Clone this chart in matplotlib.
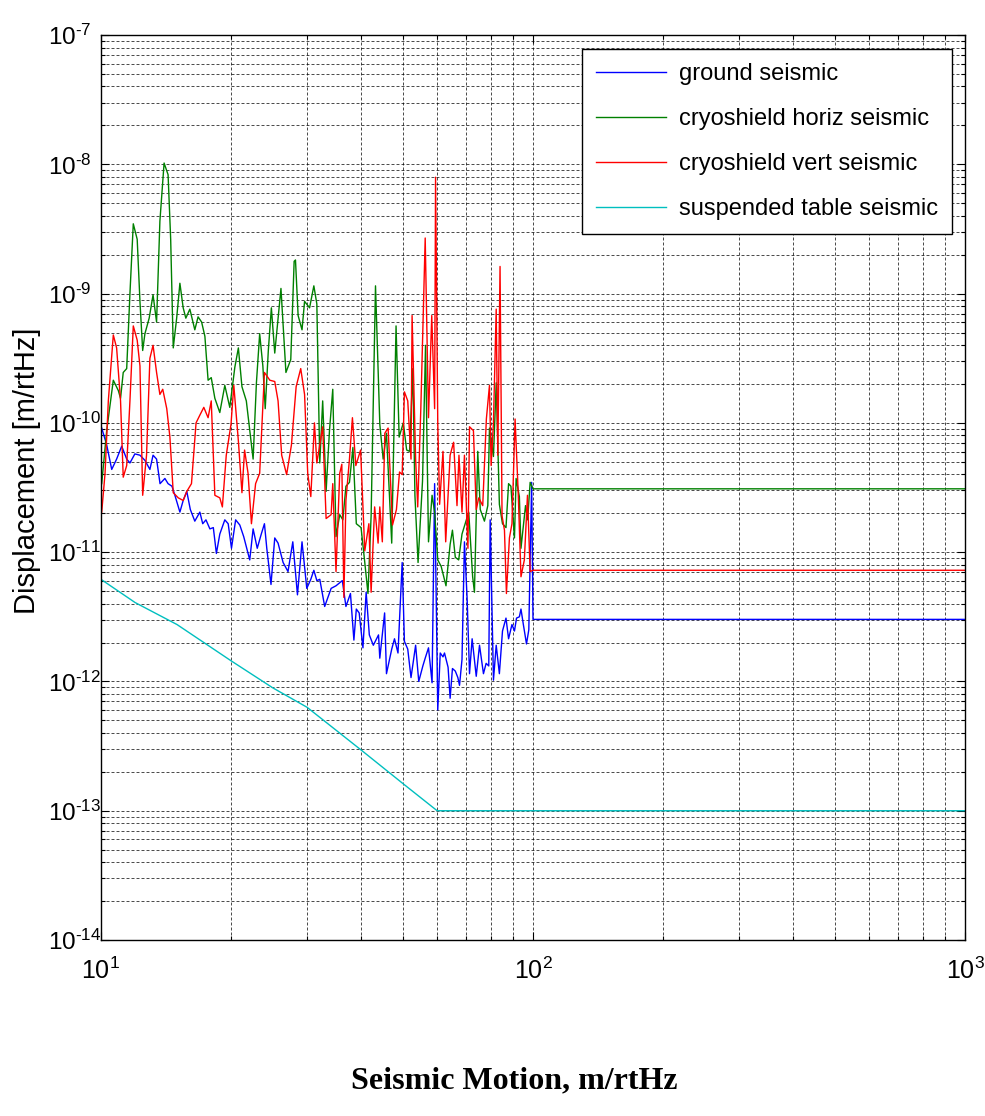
import numpy as np
import matplotlib
matplotlib.use("Agg")
import matplotlib.pyplot as plt
from matplotlib.ticker import LogLocator, FuncFormatter

plt.rcParams['font.family'] = ['Liberation Sans', 'DejaVu Sans']
plt.rcParams['mathtext.fontset'] = 'custom'
plt.rcParams['mathtext.rm'] = 'Liberation Sans'
plt.rcParams['mathtext.it'] = 'Liberation Sans'

# 频率 [Hz] 与 log10(位移) 读图数据
ground_freq = [10.04, 10.31, 10.59, 10.87, 11.17, 11.47, 11.67, 11.98, 12.31, 12.64, 12.98, 13.2, 13.45,
               13.7, 14.06, 14.3, 14.6, 14.83, 15.23, 15.5, 15.8, 16.1, 16.49, 16.94, 17.2, 17.5, 17.87,
               18.2, 18.5, 18.84, 19.35, 19.7, 20.05, 20.5, 20.96, 21.4, 22.1, 22.5, 23.0, 23.5, 23.9,
               24.2, 24.75, 25.25, 25.7, 26.4, 27.1, 27.8, 28.5, 29.2, 29.95, 30.6, 31.1, 31.6, 32.1,
               32.95, 34.1, 35.0, 36.2, 36.9, 37.8, 38.5, 39.0, 39.6, 40.4, 41.1, 41.8, 42.7, 43.9,
               44.2, 45.35, 45.8, 47.1, 47.8, 48.7, 49.8, 50.4, 51.3, 52.2, 53.5, 54.4, 55.6, 56.3,
               57.3, 58.4, 59.2, 60.2, 61.0, 61.9, 62.4, 63.6, 64.3, 65.1, 66.1, 67.0, 67.6, 68.5,
               69.4, 70.4, 71.3, 72.3, 73.9, 75.2, 76.8, 77.9, 79.0, 79.6, 81.0, 82.2, 83.6, 85.0,
               86.6, 87.8, 89.4, 90.6, 91.6, 93.0, 93.8, 95.0, 96.6, 97.8, 99.3, 100.0, 1000.0]
ground_log = [-10.04, -10.17, -10.36, -10.28, -10.18, -10.28, -10.31, -10.24, -10.25, -10.29, -10.36, -10.25,
              -10.28, -10.47, -10.43, -10.47, -10.49, -10.56, -10.69, -10.60, -10.53, -10.67, -10.76, -10.69,
              -10.78, -10.75, -10.82, -10.81, -11.01, -10.86, -10.75, -10.78, -10.97, -10.75, -10.79, -10.88,
              -11.06, -10.82, -10.97, -10.86, -10.78, -10.97, -11.25, -10.89, -10.93, -11.08, -11.15, -10.92,
              -11.33, -10.92, -11.28, -11.21, -11.14, -11.22, -11.21, -11.42, -11.28, -11.26, -11.22, -11.42,
              -11.32, -11.68, -11.44, -11.47, -11.74, -11.31, -11.64, -11.72, -11.64, -11.82, -11.47, -11.94,
              -11.75, -11.67, -11.78, -11.08, -11.69, -11.75, -11.97, -11.72, -12.00, -11.88, -11.82, -11.74,
              -12.01, -10.47, -12.22, -11.78, -11.81, -11.78, -11.89, -12.13, -11.90, -11.92, -11.97, -12.03,
              -11.83, -10.92, -11.36, -11.94, -11.67, -11.96, -11.72, -11.94, -11.86, -11.88, -10.75, -11.99,
              -11.72, -11.94, -11.61, -11.51, -11.67, -11.56, -11.61, -11.51, -11.50, -11.44, -11.56, -11.71,
              -11.60, -10.46, -11.52, -11.52]

horiz_freq = [10.04, 10.31, 10.68, 10.97, 11.1, 11.26, 11.47, 11.67, 11.88, 12.13, 12.31, 12.49, 12.64,
              12.93, 13.2, 13.45, 13.69, 14.0, 14.3, 14.5, 14.7, 14.97, 15.23, 15.5, 15.72, 16.06, 16.49,
              16.78, 17.1, 17.4, 17.7, 18.0, 18.35, 18.84, 19.35, 19.87, 20.41, 20.8, 21.2, 21.7, 22.5,
              22.9, 23.3, 23.7, 24.0, 24.4, 24.8, 25.25, 26.1, 26.8, 27.5, 28.0, 28.2, 28.6, 29.2, 29.6,
              30.4, 31.1, 31.6, 32.1, 32.6, 33.2, 33.8, 34.4, 35.0, 35.7, 36.3, 36.9, 37.6, 38.3, 39.0,
              40.0, 40.8, 41.5, 42.2, 43.2, 44.2, 45.0, 45.8, 47.1, 48.2, 49.0, 50.1, 51.0, 51.8, 52.7,
              53.3, 54.2, 55.5, 56.4, 57.3, 58.4, 59.2, 60.2, 61.3, 62.9, 64.3, 65.1, 66.1, 67.3, 68.5,
              71.0, 72.5, 73.2, 74.5, 75.5, 77.2, 78.6, 79.3, 81.0, 82.2, 83.6, 85.0, 86.6, 87.8, 88.9,
              90.6, 91.4, 93.0, 93.8, 96.1, 97.2, 98.5, 100.0, 1000.0]
horiz_log = [-10.47, -10.06, -9.67, -9.75, -9.81, -9.61, -9.58, -9.00, -8.46, -8.58, -9.06, -9.44, -9.31,
             -9.19, -9.01, -9.22, -8.44, -7.99, -8.08, -8.58, -9.42, -9.19, -8.92, -9.11, -9.19, -9.12, -9.28,
             -9.18, -9.22, -9.33, -9.67, -9.65, -9.81, -9.92, -9.71, -9.88, -9.57, -9.42, -9.72, -9.83, -10.28,
             -9.69, -9.31, -9.56, -9.89, -9.44, -9.11, -9.46, -8.96, -9.61, -9.51, -8.75, -8.74, -9.17, -9.28,
             -9.06, -9.11, -8.94, -9.08, -10.31, -9.83, -10.53, -10.06, -9.74, -10.88, -10.71, -10.75, -10.49,
             -10.46, -10.19, -10.78, -10.81, -11.08, -11.32, -10.72, -8.94, -10.01, -10.28, -10.08, -10.93,
             -9.25, -10.11, -10.00, -10.21, -10.22, -9.58, -10.56, -11.08, -10.45, -9.40, -10.92, -10.56,
             -10.69, -11.06, -11.11, -11.26, -10.94, -10.83, -11.04, -11.06, -10.86, -10.69, -11.19, -11.31,
             -10.22, -10.67, -10.76, -10.64, -10.04, -10.26, -9.69, -10.63, -10.78, -10.81, -10.47, -10.49,
             -10.89, -10.43, -10.57, -10.97, -10.64, -10.75, -10.46, -10.51, -10.51]

vert_freq = [10.04, 10.22, 10.4, 10.68, 10.87, 11.1, 11.26, 11.47, 11.67, 11.88, 12.13, 12.31, 12.49, 12.75,
             12.98, 13.2, 13.45, 13.69, 13.9, 14.2, 14.44, 14.7, 15.1, 15.5, 15.8, 16.2, 16.6, 16.94, 17.3,
             17.7, 18.0, 18.35, 18.84, 19.1, 19.5, 20.0, 20.3, 20.8, 21.2, 21.5, 21.9, 22.3, 22.8, 23.3,
             23.9, 24.6, 25.25, 25.7, 26.2, 26.9, 27.6, 28.3, 29.0, 29.6, 30.1, 30.6, 31.2, 31.6, 32.6,
             33.2, 34.1, 34.4, 35.0, 35.7, 36.1, 36.5, 36.9, 37.6, 38.2, 38.9, 39.9, 40.8, 41.7, 42.2,
             43.0, 43.8, 44.2, 44.8, 45.4, 46.2, 47.3, 48.3, 49.1, 49.8, 50.4, 51.3, 52.2, 52.5, 53.5,
             54.1, 55.0, 56.3, 57.3, 58.3, 59.2, 59.5, 60.2, 60.8, 61.9, 62.8, 64.3, 65.5, 66.7, 67.4,
             68.5, 69.4, 70.7, 71.3, 72.8, 73.9, 74.9, 76.5, 78.0, 79.3, 80.0, 81.0, 82.2, 82.9, 83.9,
             84.8, 85.9, 86.8, 88.2, 89.4, 90.9, 92.4, 93.8, 95.5, 97.1, 98.5, 100.0, 1000.0]
vert_log = [-10.69, -10.39, -9.83, -9.32, -9.42, -9.83, -10.42, -10.33, -9.83, -9.25, -9.36, -9.56, -10.56,
            -10.25, -9.50, -9.40, -9.61, -9.78, -9.74, -9.89, -10.11, -10.54, -10.58, -10.60, -10.53, -10.47,
            -10.00, -9.94, -9.88, -9.96, -9.83, -10.56, -10.58, -10.65, -10.25, -10.01, -9.71, -10.14, -10.54,
            -10.21, -10.39, -10.78, -10.47, -10.39, -9.61, -9.67, -9.68, -9.83, -10.25, -10.40, -10.17, -9.72,
            -9.58, -9.78, -10.39, -10.57, -10.00, -10.31, -10.03, -10.74, -10.71, -10.47, -11.15, -10.39,
            -10.32, -11.35, -10.60, -10.28, -9.96, -10.33, -10.21, -10.99, -10.78, -11.31, -10.65, -10.93,
            -10.65, -10.92, -10.08, -10.04, -10.79, -10.67, -10.38, -10.40, -9.76, -9.83, -10.28, -9.17,
            -10.28, -10.65, -9.89, -8.57, -9.96, -9.17, -9.89, -8.10, -10.00, -10.63, -10.22, -10.92, -10.25,
            -10.15, -10.64, -10.25, -10.69, -10.25, -10.97, -10.03, -10.06, -10.67, -10.58, -10.64, -9.97,
            -9.71, -10.33, -10.00, -9.12, -10.25, -8.79, -10.72, -10.83, -11.32, -10.89, -10.78, -9.97,
            -10.53, -11.19, -11.06, -10.56, -11.15, -11.14, -11.14]

table_freq = [10.0, 12.0, 15.0, 20.0, 25.0, 30.0, 40.0, 50.0, 60.0, 1000.0]
table_log = [-11.21, -11.39, -11.56, -11.84, -12.05, -12.20, -12.53, -12.79, -13.00, -13.00]

series = [
    (ground_freq, ground_log, '#0000ff', 'ground seismic'),
    (horiz_freq, horiz_log, '#008000', 'cryoshield horiz seismic'),
    (vert_freq, vert_log, '#ff0000', 'cryoshield vert seismic'),
    (table_freq, table_log, '#00bfbf', 'suspended table seismic'),
]


def decade_label(v, pos):
    e = int(round(np.log10(v)))
    sign = r'\text{-}' if e < 0 else ''
    return r'$10^{%s%d}$' % (sign, abs(e))


fig = plt.figure(figsize=(9.85, 11.16), dpi=100)
ax = fig.add_axes([0.1025, 0.1577, 0.8772, 0.8109])

for freq, logv, color, label in series:
    ax.loglog(freq, 10.0 ** np.array(logv), color=color, linewidth=1.0, label=label)

ax.set_xlim(10, 1000)
ax.set_ylim(1e-14, 1e-7)
ax.xaxis.set_major_locator(LogLocator(base=10, numticks=10))
ax.yaxis.set_major_locator(LogLocator(base=10, numticks=20))
ax.xaxis.set_minor_locator(LogLocator(base=10, subs=np.arange(2, 10), numticks=100))
ax.yaxis.set_minor_locator(LogLocator(base=10, subs=np.arange(2, 10), numticks=100))
ax.xaxis.set_major_formatter(FuncFormatter(decade_label))
ax.yaxis.set_major_formatter(FuncFormatter(decade_label))

ax.set_axisbelow(True)
ax.grid(True, which='both', color='k', linestyle=(0, (4.3, 2.9)), linewidth=0.5)

ax.tick_params(which='both', direction='in', top=True, right=True, width=0.8)
ax.tick_params(which='major', length=6)
ax.tick_params(which='minor', length=3)
ax.tick_params(axis='x', which='major', labelsize=18, pad=13)
ax.tick_params(axis='y', which='major', labelsize=17.5, pad=38)
plt.setp(ax.get_yticklabels(), ha='left')
for s in ax.spines.values():
    s.set_linewidth(1.0)

ax.set_ylabel('Displacement [m/rtHz]', fontsize=21)
ax.yaxis.set_label_coords(-0.069, 0.518)

leg = ax.legend(loc='upper right', bbox_to_anchor=(0.985, 0.9845), borderaxespad=0,
                fontsize=17, fancybox=False, framealpha=1, edgecolor='k',
                handlelength=2.95, handletextpad=0.55, labelspacing=0.97, borderpad=0.6)
leg.get_frame().set_linewidth(1.0)

fig.text(514 / 985, 28 / 1116, 'Seismic Motion, m/rtHz', ha='center', va='baseline',
         fontsize=23, fontweight='bold', family=['Liberation Serif', 'DejaVu Serif'])

fig.savefig('out.png', dpi=100)
